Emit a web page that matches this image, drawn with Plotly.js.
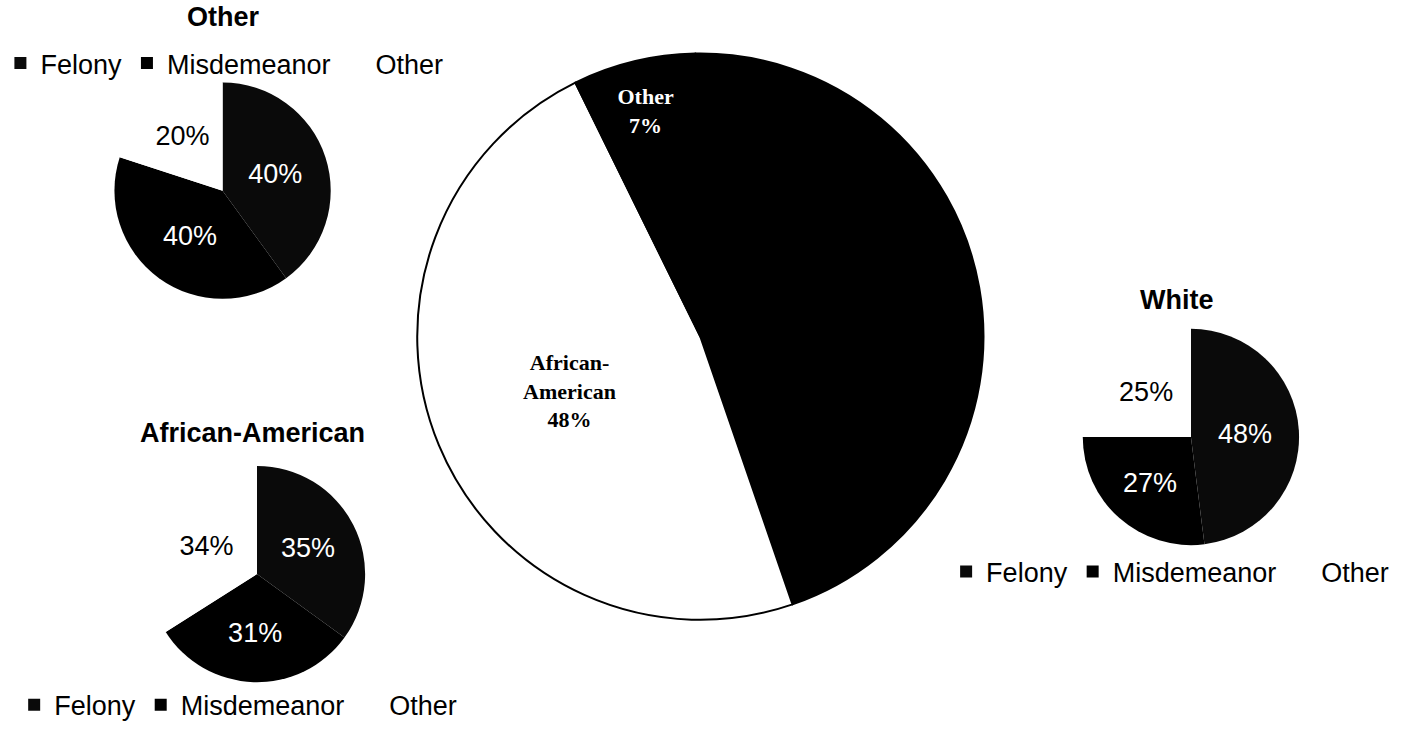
<!DOCTYPE html>
<html>
<head>
<meta charset="utf-8">
<script src="https://cdn.plot.ly/plotly-3.0.1.min.js"></script>
<style>
  html, body { margin: 0; padding: 0; background: #ffffff; }
  #chart { width: 1418px; height: 730px; }
</style>
</head>
<body>
<div id="chart"></div>
<script>
// ---- Data ----
const offenseCategories = ['Felony', 'Misdemeanor', 'Other'];

const raceLabels = ['White', 'African-American', 'Other'];
const raceDisplay = ['White', 'African-<br>American', 'Other'];
const raceShares = [45, 48, 7];

const otherTitle = 'Other';
const otherShares = [40, 40, 20];

const whiteTitle = 'White';
const whiteShares = [48, 27, 25];

const africanAmericanTitle = 'African-American';
const africanAmericanShares = [35, 31, 34];

// ---- Styling ----
const sliceColors = ['#0a0a0a', '#000000', '#ffffff'];
const sliceTextColors = ['#ffffff', '#ffffff', '#000000'];
const sans = 'Arial, "Liberation Sans", sans-serif';
const serif = '"Times New Roman", "Liberation Serif", serif';

function smallPie(values, xdom, ydom, legendId, group) {
  return {
    type: 'pie',
    labels: offenseCategories,
    values: values,
    sort: false,
    direction: 'clockwise',
    rotation: 0,
    domain: { x: xdom, y: ydom },
    marker: { colors: sliceColors, line: { width: 0 } },
    texttemplate: '%{percent:.0%}',
    textposition: 'inside',
    insidetextorientation: 'horizontal',
    textfont: { family: sans, size: 27, color: sliceTextColors },
    legend: legendId,
    legendgroup: group,
    showlegend: true,
    hoverinfo: 'skip'
  };
}

const W = 1418, H = 730;
function dom(cx, cy, r) {
  return {
    x: [(cx - r) / W, (cx + r) / W],
    y: [(H - cy - r) / H, (H - cy + r) / H]
  };
}

const dCenter = dom(688, 339, 288);
const dOther = dom(202, 192, 110);
const dWhite = dom(1187, 440, 110);
const dAA = dom(237, 578, 110);

const traces = [
  {
    type: 'pie',
    labels: raceLabels,
    values: raceShares,
    text: raceDisplay,
    sort: false,
    direction: 'clockwise',
    rotation: -1,
    domain: dCenter,
    marker: { colors: ['#000000', '#ffffff', '#000000'], line: { color: '#000000', width: 2 } },
    texttemplate: '%{text}<br>%{percent:.0%}',
    textposition: 'inside',
    insidetextorientation: 'horizontal',
    textfont: { family: serif, size: 22, color: ['#000000', '#000000', '#ffffff'], weight: 'bold' },
    showlegend: false,
    hoverinfo: 'skip'
  },
  smallPie(otherShares, dOther.x, dOther.y, 'legend', 'other'),
  smallPie(whiteShares, dWhite.x, dWhite.y, 'legend2', 'white'),
  smallPie(africanAmericanShares, dAA.x, dAA.y, 'legend3', 'aa')
];

function legendAt(x, y) {
  return {
    orientation: 'h',
    x: x, y: y,
    xanchor: 'left', yanchor: 'middle',
    bgcolor: 'rgba(0,0,0,0)',
    borderwidth: 0,
    font: { family: sans, size: 27, color: '#000000' },
    traceorder: 'normal'
  };
}

const layout = {
  width: W, height: H,
  margin: { l: 0, r: 0, t: 0, b: 0 },
  paper_bgcolor: '#ffffff',
  plot_bgcolor: '#ffffff',
  showlegend: true,
  legend: legendAt(-24 / W, 1 - 64 / H),
  legend2: legendAt(938 / W, 1 - 576 / H),
  legend3: legendAt(-10 / W, 1 - 710 / H),
  annotations: [
    { text: '<b>' + otherTitle + '</b>', x: 203 / W, y: 1 - 17 / H, xref: 'paper', yref: 'paper',
      xanchor: 'center', yanchor: 'middle', showarrow: false, font: { family: sans, size: 27, color: '#000' } },
    { text: '<b>' + whiteTitle + '</b>', x: 1173 / W, y: 1 - 302 / H, xref: 'paper', yref: 'paper',
      xanchor: 'center', yanchor: 'middle', showarrow: false, font: { family: sans, size: 27, color: '#000' } },
    { text: '<b>' + africanAmericanTitle + '</b>', x: 232 / W, y: 1 - 436 / H, xref: 'paper', yref: 'paper',
      xanchor: 'center', yanchor: 'middle', showarrow: false, font: { family: sans, size: 27, color: '#000' } }
  ]
};

Plotly.newPlot('chart', traces, layout, { staticPlot: true, displayModeBar: false });
</script>
</body>
</html>
